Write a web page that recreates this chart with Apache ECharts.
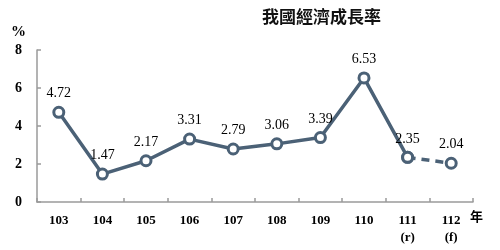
<!DOCTYPE html>
<html><head><meta charset="utf-8">
<script src="https://cdn.jsdelivr.net/npm/echarts@6/dist/echarts.min.js"></script>
<style>html,body{margin:0;padding:0;background:#fff}#c{width:500px;height:250px}</style>
</head><body><div id="c"></div>
<script>
const categories = ['103','104','105','106','107','108','109','110','111','112'];
const categoryNotes = ['','','','','','','','','(r)','(f)'];
const growth = [4.72, 1.47, 2.17, 3.31, 2.79, 3.06, 3.39, 6.53, 2.35, 2.04];
const yTicks = [0, 2, 4, 6, 8];
const titleText = '我國經濟成長率';

const lineColor = '#4b6176';
const serif = '"Liberation Serif","DejaVu Serif",serif';
const cjk = '"Noto Sans CJK TC","Noto Sans CJK SC",sans-serif';
const n = growth.length;
const solidData = growth.map((v, i) => i <= n - 2 ? v : null);
const dashData = growth.map((v, i) => i >= n - 2 ? v : null);

const chart = echarts.init(document.getElementById('c'));
const labelStyle = {show: true, position: 'top', distance: 5, fontFamily: serif, fontSize: 14, color: '#000'};
chart.setOption({
  animation: false,
  grid: {left: 37, right: 27, top: 50, bottom: 48},
  xAxis: {
    type: 'category', data: categories, boundaryGap: true,
    axisLine: {lineStyle: {color: '#9a9a9a', width: 1.5}},
    axisTick: {show: true, inside: true, length: 4, lineStyle: {color: '#9a9a9a', width: 1.5}},
    axisLabel: {
      margin: 10, fontFamily: serif, fontSize: 13, fontWeight: 'bold', color: '#000', lineHeight: 17,
      formatter: (v, i) => categoryNotes[i] ? v + '\n' + categoryNotes[i] : v
    }
  },
  yAxis: {
    type: 'value', min: yTicks[0], max: yTicks[yTicks.length - 1], interval: 2,
    splitLine: {show: false},
    axisLine: {show: true, lineStyle: {color: '#9a9a9a', width: 1.5}},
    axisTick: {show: true, inside: true, length: 4, lineStyle: {color: '#9a9a9a', width: 1.5}},
    axisLabel: {margin: 15, fontFamily: serif, fontSize: 14, fontWeight: 'bold', color: '#000'}
  },
  graphic: [
    {type: 'text', left: 262, top: 8, style: {text: titleText, font: 'bold 17px ' + cjk, fill: '#111', textAlign: 'center'}},
    {type: 'text', left: 11, top: 25, style: {text: '%', font: 'bold 15px ' + serif, fill: '#000'}},
    {type: 'text', left: 470, top: 210, style: {text: '年', font: 'bold 13px ' + cjk, fill: '#000'}}
  ],
  series: [
    {
      type: 'line', data: dashData, z: 2, connectNulls: false,
      lineStyle: {color: lineColor, width: 3.5, type: [8, 6]},
      symbol: 'circle', symbolSize: 10, showAllSymbol: true,
      itemStyle: {color: '#fff', borderColor: lineColor, borderWidth: 3},
      label: Object.assign({}, labelStyle, {formatter: p => p.dataIndex === n - 1 ? p.value.toFixed(2) : ''})
    },
    {
      type: 'line', data: solidData, z: 3,
      lineStyle: {color: lineColor, width: 3.5},
      symbol: 'circle', symbolSize: 10, showAllSymbol: true,
      itemStyle: {color: '#fff', borderColor: lineColor, borderWidth: 3},
      label: Object.assign({}, labelStyle, {formatter: p => p.value.toFixed(2)})
    }
  ]
});
</script></body></html>
